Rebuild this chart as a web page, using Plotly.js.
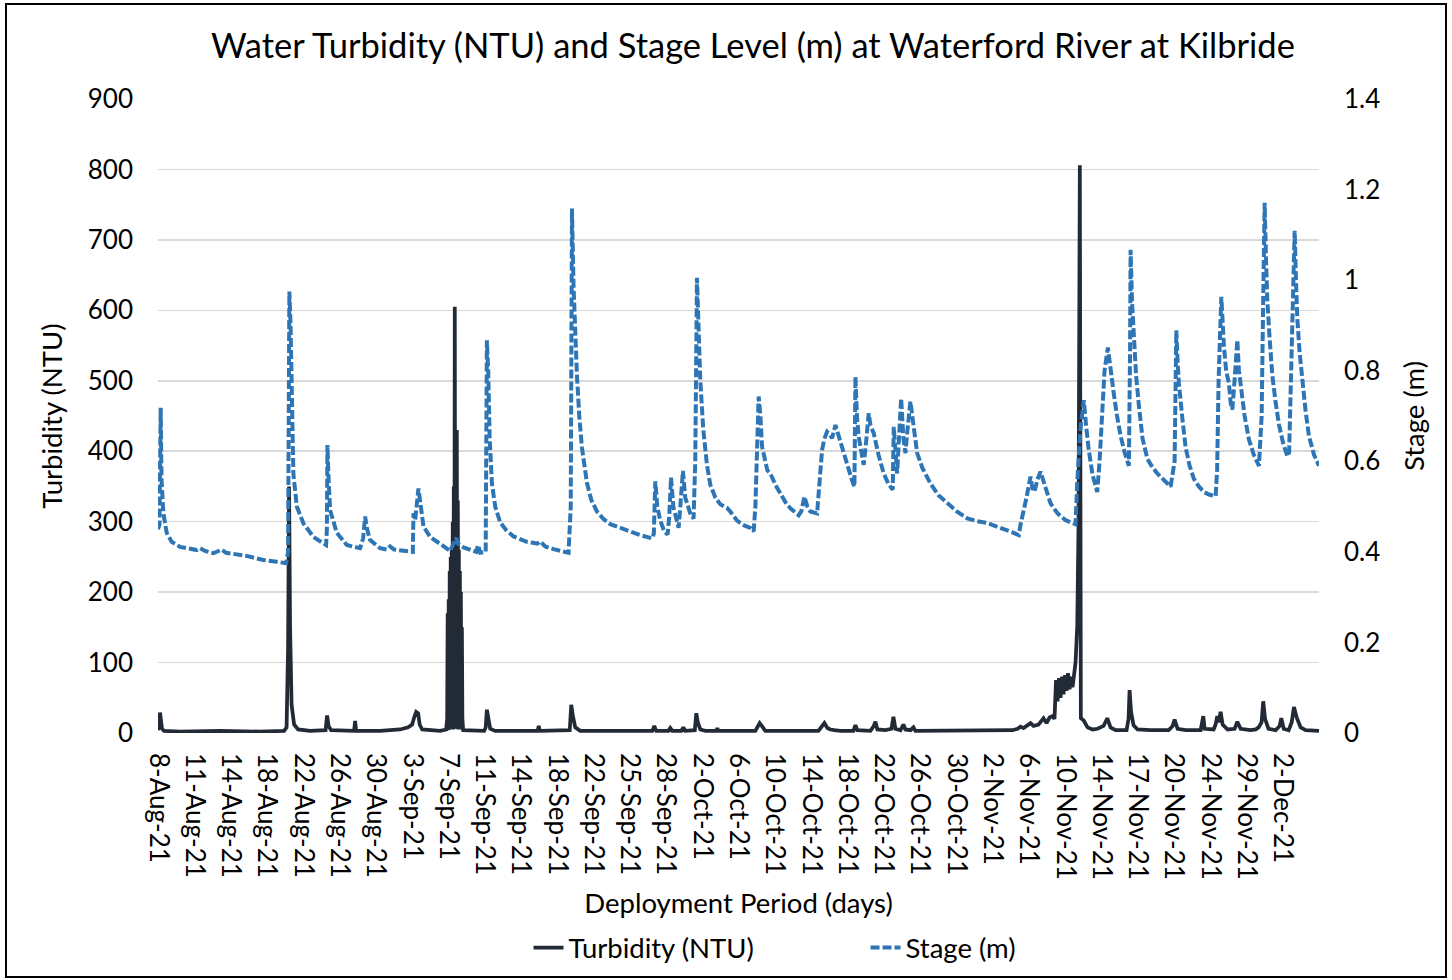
<!DOCTYPE html>
<html>
<head>
<meta charset="utf-8">
<script src="https://cdn.plot.ly/plotly-3.0.1.min.js"></script>
<style>
  body { margin: 0; background: #fff; }
  #chart { position: absolute; left: 0; top: 0; width: 1452px; height: 980px; }
  #frame { position: absolute; left: 5px; top: 3px; width: 1442px; height: 975px;
           box-sizing: border-box; border: 2px solid #000; pointer-events: none; }
</style>
</head>
<body>
<div id="chart"></div>
<div id="frame"></div>
<script>
// Tick labels along the deployment record (one per tick interval)
const dateLabels = ['8-Aug-21', '11-Aug-21', '14-Aug-21', '18-Aug-21', '22-Aug-21', '26-Aug-21',
  '30-Aug-21', '3-Sep-21', '7-Sep-21', '11-Sep-21', '14-Sep-21', '18-Sep-21', '22-Sep-21',
  '25-Sep-21', '28-Sep-21', '2-Oct-21', '6-Oct-21', '10-Oct-21', '14-Oct-21', '18-Oct-21',
  '22-Oct-21', '26-Oct-21', '30-Oct-21', '2-Nov-21', '6-Nov-21', '10-Nov-21', '14-Nov-21',
  '17-Nov-21', '20-Nov-21', '24-Nov-21', '29-Nov-21', '2-Dec-21'];
const tickPos = dateLabels.map((_, i) => i);

const stageTicks = [0, 0.2, 0.4, 0.6, 0.8, 1, 1.2, 1.4];

// Stage (m) -- position in record (tick intervals) and level
const stagePos = [0.000, 0.041, 0.074, 0.097, 0.146, 0.240, 0.378, 0.607, 1.067, 1.158, 1.296, 1.525,
  1.757, 1.875, 2.446, 2.904, 3.274, 3.530, 3.585, 3.621, 3.654, 3.687, 3.731, 3.825, 4.007, 4.283,
  4.633, 4.655, 4.669, 4.702, 4.744, 4.928, 5.204, 5.571, 5.654, 5.709, 5.764, 5.847, 6.122, 6.307,
  6.398, 6.508, 6.674, 7.024, 7.041, 7.088, 7.179, 7.226, 7.317, 7.501, 7.868, 8.053, 8.218, 8.273,
  8.420, 8.770, 8.825, 8.880, 9.032, 9.065, 9.101, 9.142, 9.203, 9.294, 9.432, 9.597, 9.799, 10.168,
  10.342, 10.452, 10.535, 10.673, 10.902, 11.316, 11.376, 11.410, 11.454, 11.501, 11.548, 11.611,
  11.685, 11.823, 11.942, 12.099, 12.273, 12.466, 12.742, 13.018, 13.293, 13.616, 13.666, 13.707,
  13.762, 13.845, 13.955, 14.046, 14.093, 14.140, 14.203, 14.350, 14.396, 14.468, 14.532, 14.670,
  14.761, 14.808, 14.855, 14.891, 14.946, 15.029, 15.132, 15.223, 15.361, 15.499, 15.684, 15.775,
  15.960, 16.142, 16.327, 16.418, 16.465, 16.556, 16.603, 16.650, 16.714, 16.796, 16.879, 17.017,
  17.154, 17.292, 17.430, 17.659, 17.733, 17.816, 17.899, 17.981, 18.166, 18.216, 18.304, 18.367,
  18.441, 18.505, 18.580, 18.671, 18.781, 18.900, 19.029, 19.140, 19.195, 19.223, 19.264, 19.314,
  19.388, 19.451, 19.526, 19.589, 19.636, 19.727, 19.857, 20.003, 20.133, 20.251, 20.279, 20.326,
  20.372, 20.422, 20.483, 20.546, 20.601, 20.670, 20.739, 20.822, 20.924, 21.070, 21.291, 21.511,
  21.751, 22.008, 22.303, 22.559, 22.854, 23.083, 23.312, 23.552, 23.726, 23.773, 23.847, 23.938,
  24.048, 24.103, 24.159, 24.241, 24.324, 24.435, 24.600, 24.793, 25.014, 25.290, 25.337, 25.428,
  25.519, 25.579, 25.657, 25.759, 25.888, 25.952, 26.026, 26.089, 26.181, 26.255, 26.346, 26.434,
  26.531, 26.641, 26.760, 26.793, 26.807, 26.848, 26.898, 26.958, 27.035, 27.137, 27.267, 27.385,
  27.543, 27.717, 27.910, 28.020, 28.067, 28.103, 28.139, 28.227, 28.323, 28.434, 28.552, 28.682,
  28.828, 28.985, 29.151, 29.192, 29.233, 29.308, 29.344, 29.380, 29.440, 29.518, 29.564, 29.611,
  29.674, 29.749, 29.793, 29.840, 29.950, 30.069, 30.199, 30.345, 30.419, 30.461, 30.502, 30.538,
  30.576, 30.640, 30.714, 30.805, 30.896, 31.012, 31.128, 31.177, 31.233, 31.274, 31.329, 31.365,
  31.403, 31.466, 31.541, 31.632, 31.722, 31.860, 32.000];
const stageM = [0.450, 0.460, 0.718, 0.560, 0.486, 0.442, 0.422, 0.411, 0.404, 0.408, 0.402, 0.397,
  0.405, 0.398, 0.391, 0.382, 0.378, 0.375, 0.400, 0.975, 0.900, 0.780, 0.573, 0.500, 0.463, 0.433,
  0.415, 0.450, 0.636, 0.560, 0.492, 0.442, 0.415, 0.408, 0.430, 0.478, 0.450, 0.426, 0.408, 0.405,
  0.412, 0.405, 0.403, 0.400, 0.485, 0.470, 0.540, 0.510, 0.456, 0.433, 0.411, 0.402, 0.431, 0.418,
  0.410, 0.400, 0.415, 0.398, 0.400, 0.867, 0.800, 0.650, 0.552, 0.500, 0.465, 0.448, 0.434, 0.422,
  0.420, 0.418, 0.423, 0.412, 0.406, 0.398, 0.500, 1.158, 0.985, 0.880, 0.788, 0.700,
  0.630, 0.552, 0.515, 0.489, 0.473, 0.461, 0.452, 0.445, 0.437, 0.430, 0.440, 0.556,
  0.500, 0.469, 0.445, 0.438, 0.480, 0.564, 0.500, 0.453, 0.500, 0.579, 0.520, 0.485,
  0.473, 0.600, 1.005, 0.900, 0.780, 0.670, 0.591, 0.548, 0.520, 0.505, 0.497, 0.489,
  0.469, 0.459, 0.453, 0.445, 0.500, 0.743, 0.700, 0.632, 0.610, 0.580, 0.573, 0.548,
  0.529, 0.510, 0.496, 0.481, 0.490, 0.522, 0.500, 0.489, 0.485, 0.530, 0.625, 0.650,
  0.665, 0.660, 0.651, 0.680, 0.650, 0.618, 0.580, 0.555, 0.544, 0.787, 0.700, 0.654,
  0.620, 0.592, 0.650, 0.706, 0.680, 0.662, 0.615, 0.573, 0.550, 0.537, 0.676, 0.620,
  0.573, 0.650, 0.739, 0.650, 0.618, 0.680, 0.732, 0.680, 0.618, 0.585, 0.551, 0.525,
  0.507, 0.490, 0.474, 0.468, 0.464, 0.458, 0.450, 0.443, 0.437, 0.460, 0.492, 0.520,
  0.566, 0.540, 0.533, 0.560, 0.577, 0.550, 0.507, 0.485, 0.470, 0.461, 0.556, 0.673,
  0.735, 0.680, 0.623, 0.570, 0.532, 0.600, 0.723, 0.800, 0.851, 0.800, 0.748, 0.700,
  0.656, 0.620, 0.590, 0.850, 1.067, 0.950, 0.872, 0.790, 0.723, 0.650, 0.606, 0.590,
  0.573, 0.558, 0.544, 0.600, 0.889, 0.820, 0.772, 0.700, 0.631, 0.590, 0.561, 0.545,
  0.532, 0.526, 0.523, 0.580, 0.780, 0.963, 0.900, 0.855, 0.800, 0.772, 0.730, 0.714,
  0.780, 0.868, 0.800, 0.772, 0.700, 0.648, 0.615, 0.590, 0.700, 0.950, 1.171, 1.050,
  0.955, 0.870, 0.789, 0.730, 0.681, 0.640, 0.611, 0.620, 0.800, 0.950, 1.109, 1.000,
  0.914, 0.840, 0.772, 0.710, 0.656, 0.615, 0.590];

// Turbidity (NTU) -- position in record (tick intervals) and value
const turbPos = [0.000, 0.028, 0.055, 0.083, 0.110, 0.165, 0.607, 1.710, 2.813, 3.475, 3.544, 3.585,
  3.613, 3.640, 3.682, 3.751, 3.861, 4.192, 4.619, 4.661, 4.702, 4.771, 5.405, 5.433, 5.461, 6.122,
  6.674, 6.894, 7.005, 7.060, 7.115, 7.170, 7.212, 7.281, 7.777, 7.943,
  // dense burst 7-Sep
  7.970, 7.984, 7.998, 8.012, 8.026, 8.040, 8.054, 8.068, 8.082, 8.096, 8.110, 8.124, 8.138, 8.152,
  8.166, 8.180, 8.194, 8.208, 8.222, 8.236, 8.250, 8.264, 8.278, 8.292, 8.306, 8.320, 8.334, 8.348,
  8.362, 8.376, 8.390, 8.411,
  8.991, 9.032, 9.065, 9.101, 9.156, 9.294,
  10.466, 10.494, 10.521, 11.349, 11.390, 11.432, 11.500, 11.638, 13.624, 13.679, 13.734, 14.065,
  14.120, 14.175, 14.424, 14.479, 14.534, 14.796, 14.837, 14.879, 14.948, 15.085, 15.389, 15.416,
  15.444, 16.464, 16.519, 16.583, 16.657, 16.740, 18.202, 18.312, 18.367, 18.450, 18.533, 18.643,
  18.809, 19.167, 19.222, 19.277, 19.636, 19.719, 19.774, 19.829, 20.050, 20.215, 20.270, 20.325,
  20.463, 20.546, 20.601, 20.739, 20.822, 20.877, 22.118, 23.221, 23.552, 23.690, 23.773, 23.855,
  23.966, 24.048, 24.131, 24.269, 24.407, 24.490, 24.573, 24.655, 24.710, 24.752, 24.793, 24.834,
  24.876, 24.917, 24.958, 25.000, 25.041, 25.083, 25.124, 25.165, 25.207, 25.243, 25.290, 25.337,
  25.373, 25.408, 25.436, 25.510, 25.621, 25.759, 25.896, 26.062, 26.164, 26.255, 26.393, 26.696,
  26.751, 26.779, 26.820, 26.889, 27.000, 27.358, 27.854, 27.965, 28.020, 28.103, 28.323, 28.737,
  28.792, 28.811, 28.847, 29.095, 29.151, 29.197, 29.233, 29.288, 29.344, 29.482, 29.674, 29.749,
  29.840, 30.116, 30.254, 30.334, 30.416, 30.463, 30.513, 30.609, 30.805, 30.915, 30.962, 31.026,
  31.163, 31.246, 31.310, 31.384, 31.494, 31.632, 32.000];
const turbNTU = [4, 10, 29, 18, 6, 3, 2, 3, 2, 3, 8, 120,
  350, 150, 40, 12, 5, 3, 4, 25, 10, 4, 3, 17, 3, 3,
  5, 8, 12, 22, 30, 28, 12, 5, 3, 5,
  // dense burst 7-Sep
  20, 170, 4, 190, 5, 230, 6, 250, 5, 260, 6, 300, 5, 350, 8, 605, 6, 360, 8, 430, 6, 330, 5, 260,
  6, 230, 5, 200, 6, 150, 20, 4,
  3, 8, 33, 20, 6, 3,
  3, 10, 3, 4, 40, 25, 8, 3, 3, 10, 3, 3,
  7, 3, 3, 8, 3, 4, 28, 15, 5, 3, 3, 7,
  3, 3, 8, 14, 9, 3, 3, 10, 14, 7, 5, 4,
  3, 3, 11, 4, 3, 9, 16, 5, 4, 6, 23, 6,
  4, 12, 5, 4, 8, 3, 3, 3, 4, 6, 9, 7,
  11, 14, 10, 12, 21, 14, 22, 24, 20, 75, 45, 78,
  50, 80, 55, 82, 60, 85, 62, 80, 65, 86, 100, 152,
  300, 806, 21, 18, 8, 5, 6, 10, 21, 8, 4, 4,
  20, 61, 30, 11, 5, 4, 4, 10, 19, 6, 4, 4,
  15, 24, 6, 5, 12, 24, 15, 30, 12, 5, 6, 16,
  6, 4, 5, 8, 15, 45, 20, 6, 4, 10, 21, 6,
  4, 15, 37, 22, 8, 4, 3];

const FONT = 'Lato, "Open Sans", sans-serif';
const TEXT = '#000000';

const traces = [
  {
    x: turbPos,
    y: turbNTU,
    name: 'Turbidity (NTU)',
    type: 'scatter',
    mode: 'lines',
    line: { color: '#222a35', width: 3.75 },
    yaxis: 'y',
  },
  {
    x: stagePos,
    y: stageM,
    name: 'Stage (m)',
    type: 'scatter',
    mode: 'lines',
    line: { color: '#2e75b6', width: 4, dash: '9px,3px' },
    yaxis: 'y2',
  },
];

const layout = {
  width: 1452,
  height: 980,
  margin: { l: 158, r: 133, t: 99, b: 247 },
  paper_bgcolor: '#ffffff',
  plot_bgcolor: '#ffffff',
  font: { family: FONT, color: TEXT, size: 26 },
  title: {
    text: 'Water Turbidity (NTU) and Stage Level (m) at Waterford River at Kilbride',
    font: { family: FONT, size: 34.5, color: TEXT },
    xref: 'container', x: 0.5186,
    yref: 'container', y: 0.953, yanchor: 'middle',
  },
  xaxis: {
    range: [0, 32],
    tickmode: 'array',
    tickvals: tickPos,
    ticktext: dateLabels,
    tickangle: 90,
    tickfont: { size: 26 },
    ticks: '',
    ticklabelstandoff: 19,
    showgrid: false,
    zeroline: false,
    showline: false,
    title: { text: 'Deployment Period (days)', font: { size: 27.5 }, standoff: 14 },
  },
  yaxis: {
    range: [0, 900],
    dtick: 100,
    tickfont: { size: 26 },
    ticks: '',
    ticklabelstandoff: 24,
    gridcolor: '#d9d9d9',
    gridwidth: 1.5,
    zeroline: false,
    showline: false,
    title: { text: 'Turbidity (NTU)', font: { size: 27.5 }, standoff: 17 },
  },
  yaxis2: {
    overlaying: 'y',
    side: 'right',
    range: [0, 1.4],
    tickmode: 'array',
    tickvals: stageTicks,
    ticktext: stageTicks.map(String),
    tickfont: { size: 26 },
    ticks: '',
    ticklabelstandoff: 24,
    showgrid: false,
    zeroline: false,
    showline: false,
    title: { text: 'Stage (m)', font: { size: 27.5 }, standoff: 25 },
  },
  showlegend: true,
  legend: {
    orientation: 'h',
    xref: 'container', x: 0.364, xanchor: 'left',
    yref: 'container', y: 0.033, yanchor: 'middle',
    font: { size: 27.5 },
    entrywidth: 292,
  },
  hovermode: false,
};

Plotly.newPlot('chart', traces, layout, { displayModeBar: false, staticPlot: true });
</script>
</body>
</html>
